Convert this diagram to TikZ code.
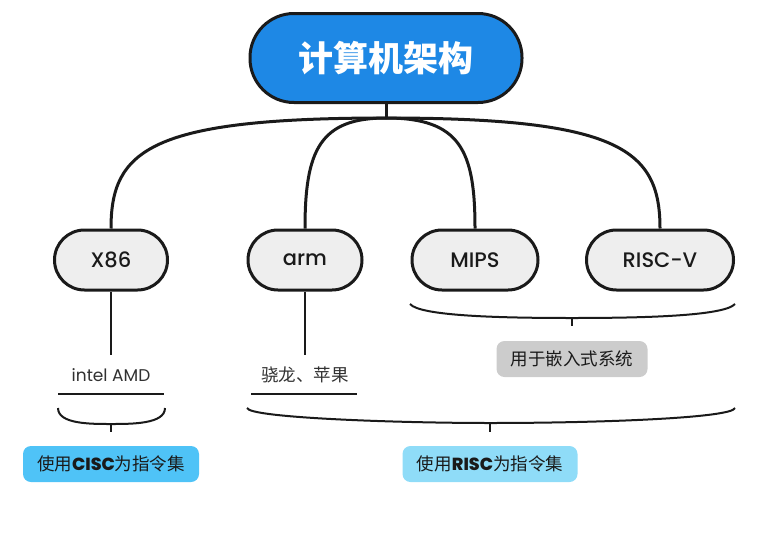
\documentclass[tikz,border=0pt]{standalone}
\usepackage{fontspec}
\setmainfont{Poppins}
\newfontfamily\medio{Poppins Medium}
\newfontfamily\cjk{Noto Sans CJK SC}
\definecolor{raiz}{HTML}{1E88E5}
\definecolor{hoja}{HTML}{EEEEEE}
\definecolor{gris}{HTML}{CCCCCC}
\definecolor{cisc}{HTML}{4FC3F7}
\definecolor{risc}{HTML}{8FDCF8}
\definecolor{tinta}{HTML}{1A1A1A}
\tikzset{
    pill/.style={draw=tinta, line width=3pt, rounded corners=30pt, fill=hoja,
        minimum height=60pt, inner sep=0pt, text=tinta, font=\medio\fontsize{21}{24}\selectfont},
    etiqueta/.style={inner sep=0pt, text=tinta!90},
    caja/.style={rounded corners=8pt, minimum height=36pt, inner sep=0pt,
        text=tinta, font=\cjk\fontsize{17.5}{20}\selectfont},
    rama/.style={line width=3pt, draw=tinta},
    llave/.style={line width=2pt, draw=tinta}
}
\begin{document}
\begin{tikzpicture}[x=1pt, y=-1pt]
    \useasboundingbox (0,0) rectangle (770,538);
    % Nodo raíz
    \node[pill, fill=raiz, minimum width=272pt, minimum height=89pt, rounded corners=44pt,
        text=white, font=\cjk\bfseries\fontsize{35}{40}\selectfont] (root) at (386,58) {计算机架构};
    % Arquitecturas
    \node[pill, minimum width=113pt] (x86) at (111,260) {X86};
    \node[pill, minimum width=114pt] (arm) at (305,260) {arm};
    \node[pill, minimum width=126pt] (mips) at (475,260) {MIPS};
    \node[pill, minimum width=147pt] (riscv) at (660,260) {RISC-V};
    \coordinate (hub) at (386,118);
    \draw[rama] (root.south) -- (hub);
    \draw[rama] (hub) .. controls (150,118) and (111,150) .. (x86.north);
    \draw[rama] (hub) .. controls (320,118) and (305,150) .. (arm.north);
    \draw[rama] (hub) .. controls (460,118) and (475,150) .. (mips.north);
    \draw[rama] (hub) .. controls (620,118) and (660,150) .. (riscv.north);
    % Ejemplos
    \node[etiqueta, font=\fontsize{17}{20}\selectfont] (intel) at (111,375) {intel AMD};
    \node[etiqueta, font=\cjk\fontsize{17.5}{20}\selectfont] (snap) at (305,375) {骁龙、苹果};
    \coordinate (x86e) at (111,355);
    \coordinate (arme) at (305,355);
    \draw[rama, line width=2.5pt] (x86.south) -- (x86e);
    \draw[rama, line width=2.5pt] (arm.south) -- (arme);
    \draw[llave] (58,394) -- (164,394);
    \draw[llave] (251,394) -- (357,394);
    % Llave MIPS / RISC-V
    \node[caja, fill=gris, minimum width=151pt] (emb) at (572,359) {用于嵌入式系统};
    \coordinate (b1) at (572,318);
    \draw[llave] (410,304) .. controls (420,316) and (500,318) .. (b1)
        .. controls (644,318) and (724,316) .. (735,304);
    \draw[llave] (b1) -- (emb.north |- 0,326);
    % Llave CISC
    \node[caja, fill=cisc, minimum width=176pt] (ci) at (111,464) {使用{\medio\bfseries CISC}为指令集};
    \coordinate (b2) at (111,424);
    \draw[llave] (58,408) .. controls (58,424) and (90,424) .. (b2)
        .. controls (132,424) and (165,424) .. (165,408);
    \draw[llave] (b2) -- (ci.north |- 0,432);
    % Llave RISC
    \node[caja, fill=risc, minimum width=175pt] (ri) at (490,464) {使用{\medio\bfseries RISC}为指令集};
    \coordinate (b3) at (490,423);
    \draw[llave] (247,408) .. controls (250,418) and (400,423) .. (b3)
        .. controls (600,423) and (732,418) .. (735,408);
    \draw[llave] (b3) -- (ri.north |- 0,432);
\end{tikzpicture}
\end{document}
